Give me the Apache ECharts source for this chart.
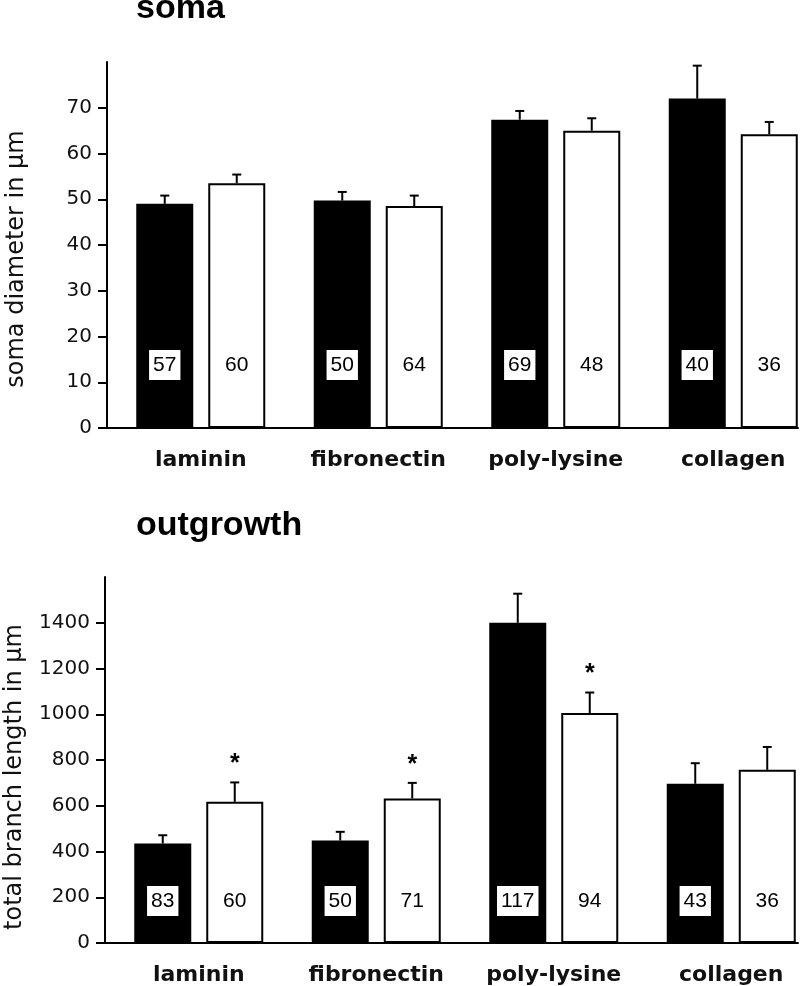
<!DOCTYPE html>
<html>
<head>
<meta charset="utf-8">
<script src="https://cdn.jsdelivr.net/npm/echarts@6/dist/echarts.min.js"></script>
<style>
html, body { margin: 0; padding: 0; background: #fff; }
#chart { width: 800px; height: 986px; }
</style>
</head>
<body>
<div id="chart"></div>
<script>
var categories = ['laminin', 'fibronectin', 'poly-lysine', 'collagen'];

// soma diameter in µm (filled / open bars), mean and SE
var somaBlack = [49.0, 49.7, 67.4, 72.0];
var somaBlackErr = [1.8, 1.9, 1.9, 7.2];
var somaWhite = [53.5, 48.5, 65.0, 64.2];
var somaWhiteErr = [1.9, 2.3, 2.7, 2.7];
var somaBlackN = [57, 50, 69, 40];
var somaWhiteN = [60, 64, 48, 36];
var somaTicks = [0, 10, 20, 30, 40, 50, 60, 70];

// total branch length in µm
var outBlack = [435, 448, 1400, 696];
var outBlackErr = [36, 38, 127, 90];
var outWhite = [617, 632, 1005, 757];
var outWhiteErr = [85, 68, 90, 100];
var outBlackN = [83, 50, 117, 43];
var outWhiteN = [60, 71, 94, 36];
var outWhiteStar = [true, true, true, false];
var outTicks = [0, 200, 400, 600, 800, 1000, 1200, 1400];

var BAR_W = 57;
var BAR_GAP = 15;
var txtFont = 'DejaVu Sans';

var chart = echarts.init(document.getElementById('chart'));

function frameY(gridIndex, max, ticks, name, shift) {
    return {
        type: 'value', gridIndex: gridIndex, min: 0, max: max,
        name: name, nameLocation: 'middle', nameGap: 78,
        nameTextStyle: { fontFamily: txtFont, fontSize: 24, color: '#111', padding: [0, shift, 0, 0] },
        axisLine: { show: true, lineStyle: { color: '#000', width: 2 } },
        axisTick: { show: true, length: 9, lineStyle: { color: '#000', width: 2 }, customValues: ticks },
        axisLabel: {
            margin: 15, fontFamily: txtFont, fontSize: 20, color: '#111', customValues: ticks,
            formatter: function (v) { return String(v); }
        },
        splitLine: { show: false }
    };
}
function hiddenY(gridIndex, max) {
    return { type: 'value', gridIndex: gridIndex, min: 0, max: max, show: false, splitLine: { show: false } };
}
function frameX(gridIndex) {
    return {
        type: 'value', gridIndex: gridIndex, min: 0, max: 1,
        axisLine: { show: true, onZero: false, lineStyle: { color: '#000', width: 2 } },
        axisTick: { show: false }, axisLabel: { show: false }, splitLine: { show: false }
    };
}
function catX(gridIndex) {
    return {
        type: 'category', gridIndex: gridIndex, data: categories,
        axisLine: { show: false }, axisTick: { show: false },
        axisLabel: { interval: 0, margin: 21, fontFamily: txtFont, fontWeight: 'bold', fontSize: 22, color: '#111' }
    };
}

function barSeries(axisIdx, values, ns, filled, labelDist) {
    return {
        type: 'bar', xAxisIndex: axisIdx, yAxisIndex: axisIdx,
        data: values, barWidth: BAR_W, barGap: (BAR_GAP / BAR_W * 100) + '%',
        itemStyle: filled ? { color: '#000' } : { color: '#fff', borderColor: '#000', borderWidth: 2 },
        label: {
            show: true, position: 'insideBottom', distance: labelDist,
            formatter: function (p) { return ns[p.dataIndex]; },
            fontFamily: 'Liberation Sans', fontSize: 21, color: '#000',
            backgroundColor: filled ? '#fff' : 'transparent',
            padding: [5, 4, 4, 4]
        },
        silent: true, animation: false
    };
}

function errSeries(axisIdx, values, errs, side, stars) {
    var data = values.map(function (v, i) { return [i, v, errs[i], stars && stars[i] ? 1 : 0]; });
    return {
        type: 'custom', xAxisIndex: axisIdx, yAxisIndex: axisIdx, z: 5,
        data: data, encode: { x: 0, y: 1 }, silent: true, animation: false,
        renderItem: function (params, api) {
            var i = api.value(0);
            var base = api.coord([i, api.value(1)]);
            var top = api.coord([i, api.value(1) + api.value(2)]);
            var x = base[0] + side * (BAR_W + BAR_GAP) / 2;
            var children = [
                { type: 'line', shape: { x1: x, y1: base[1], x2: x, y2: top[1] }, style: { stroke: '#000', lineWidth: 2 } },
                { type: 'line', shape: { x1: x - 4.5, y1: top[1], x2: x + 4.5, y2: top[1] }, style: { stroke: '#000', lineWidth: 2 } }
            ];
            if (api.value(3)) {
                children.push({ type: 'text', x: x, y: top[1] - 18,
                    style: { text: '*', font: 'bold 25px Liberation Sans', fill: '#000', align: 'center', verticalAlign: 'middle' } });
            }
            return { type: 'group', children: children };
        }
    };
}

var option = {
    backgroundColor: '#fff',
    title: [
        { text: 'soma', left: 136, top: -8, padding: 0, textStyle: { fontFamily: 'Liberation Sans', fontWeight: 'bold', fontSize: 34, color: '#000' } },
        { text: 'outgrowth', left: 136, top: 509, padding: 0, textStyle: { fontFamily: 'Liberation Sans', fontWeight: 'bold', fontSize: 34, color: '#000' } }
    ],
    grid: [
        { left: 107, right: 2, top: 62, height: 366, outerBoundsMode: 'none' },
        { left: 112, width: 710, top: 62, height: 366, outerBoundsMode: 'none' },
        { left: 105, right: 2, top: 577, height: 366, outerBoundsMode: 'none' },
        { left: 110, width: 710, top: 577, height: 366, outerBoundsMode: 'none' }
    ],
    xAxis: [frameX(0), catX(1), frameX(2), catX(3)],
    yAxis: [
        frameY(0, 80, somaTicks, 'soma diameter in µm', 28),
        hiddenY(1, 80),
        frameY(2, 1600, outTicks, 'total branch length in µm', 34),
        hiddenY(3, 1600)
    ],
    series: [
        barSeries(1, somaBlack, somaBlackN, true, 48),
        barSeries(1, somaWhite, somaWhiteN, false, 48),
        errSeries(1, somaBlack, somaBlackErr, -1),
        errSeries(1, somaWhite, somaWhiteErr, 1),
        barSeries(3, outBlack, outBlackN, true, 27),
        barSeries(3, outWhite, outWhiteN, false, 27),
        errSeries(3, outBlack, outBlackErr, -1),
        errSeries(3, outWhite, outWhiteErr, 1, outWhiteStar)
    ]
};
chart.setOption(option);
window.onresize = chart.resize;
</script>
</body>
</html>
